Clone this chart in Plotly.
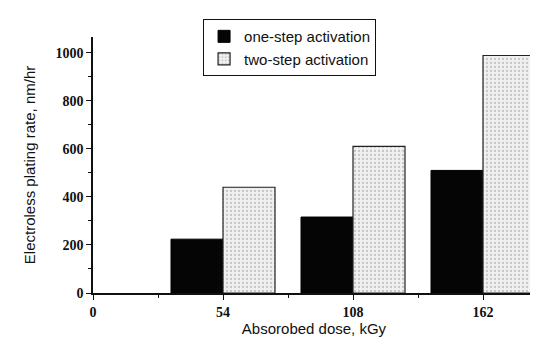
import plotly.graph_objects as go

doses = [54, 108, 162]
one_step = [224, 316, 510]
two_step = [440, 610, 988]
x_ticks = [0, 54, 108, 162]
y_ticks = [0, 200, 400, 600, 800, 1000]

bar_w = 21.6

fig = go.Figure()
fig.add_trace(go.Bar(
    x=doses, y=one_step, name="one-step activation",
    width=bar_w, offset=-bar_w,
    marker=dict(color="#050505", line=dict(color="#000000", width=1)),
))
fig.add_trace(go.Bar(
    x=doses, y=two_step, name="two-step activation",
    width=bar_w, offset=0,
    marker=dict(color="#f2f2f2", line=dict(color="#222222", width=1.2),
                pattern=dict(shape=".", fgcolor="#9a9a9a", bgcolor="#f0f0f0",
                             size=4, solidity=0.25)),
))

fig.update_layout(
    width=538, height=338,
    margin=dict(l=85, r=11, t=27, b=46),
    paper_bgcolor="white", plot_bgcolor="white",
    barmode="overlay",
    showlegend=True,
    legend=dict(
        x=0.249, y=1.07, xanchor="left", yanchor="top",
        bordercolor="#111111", borderwidth=1, bgcolor="white",
        font=dict(family="Liberation Sans, Arial", size=15, color="#111111"),
        tracegroupgap=0, itemwidth=30,
    ),
    font=dict(family="Liberation Sans, Arial", color="#111111"),
)

fig.update_xaxes(
    range=[0, 183.6], tickvals=x_ticks, ticktext=[str(v) for v in x_ticks],
    showgrid=False, zeroline=False, showline=True, linecolor="#111111", linewidth=1.5,
    ticks="outside", ticklen=5, tickcolor="#111111",
    minor=dict(ticks="outside", ticklen=3, tickvals=[27, 81, 135], tickcolor="#111111"),
    tickfont=dict(family="Liberation Serif, Times New Roman", size=14, color="#111111", weight="bold"),
    title=dict(text="Absorobed dose, kGy", font=dict(size=15), standoff=5),
)
fig.update_yaxes(
    range=[0, 1065], tickvals=y_ticks,
    showgrid=False, zeroline=False, showline=True, linecolor="#111111", linewidth=1.5,
    ticks="outside", ticklen=5, tickcolor="#111111",
    minor=dict(ticks="outside", ticklen=3, dtick=100, tickcolor="#111111"),
    tickfont=dict(family="Liberation Serif, Times New Roman", size=14, color="#111111", weight="bold"),
    title=dict(text="Electroless plating rate, nm/hr", font=dict(size=15), standoff=16),
)

fig.write_html("out.html")
